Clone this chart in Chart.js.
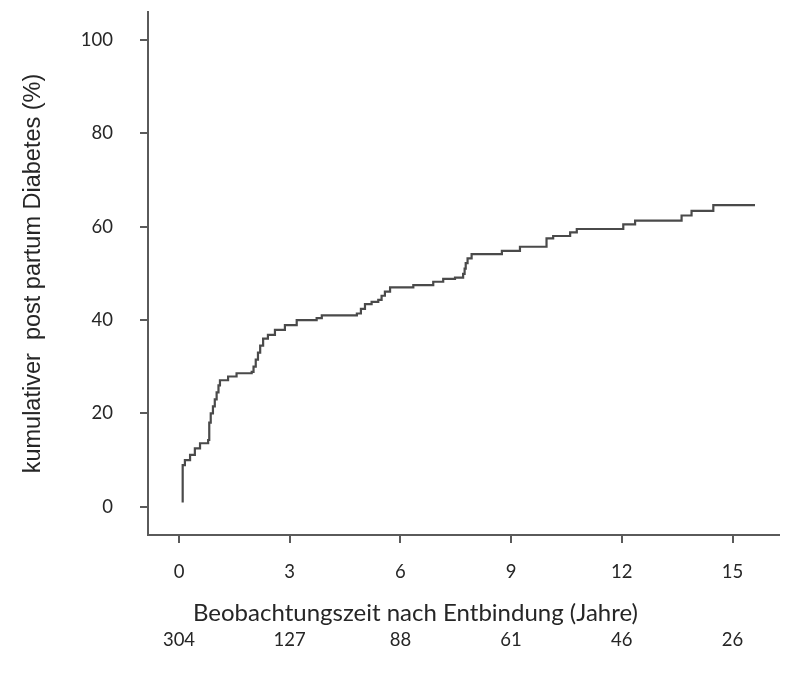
<!DOCTYPE html>
<html>
<head>
<meta charset="utf-8">
<script src="https://cdn.jsdelivr.net/npm/chart.js@4/dist/chart.umd.min.js"></script>
<style>
html,body{margin:0;padding:0;background:#fff;}
#wrap{width:790px;height:675px;position:relative;}
canvas{display:block;}
</style>
</head>
<body>
<div id="wrap"><canvas id="c" width="790" height="675"></canvas></div>
<script>
// Kaplan-Meier style cumulative incidence (years, percent)
const years = [0.10, 0.10, 0.16, 0.30, 0.43, 0.57, 0.79, 0.82, 0.86, 0.92, 0.97, 1.02, 1.07, 1.11, 1.33, 1.56, 1.97, 2.02, 2.08, 2.14, 2.20, 2.28, 2.41, 2.60, 2.87, 3.19, 3.73, 3.87, 4.82, 4.93, 5.04, 5.22, 5.40, 5.49, 5.58, 5.72, 6.35, 6.89, 7.16, 7.48, 7.70, 7.74, 7.77, 7.82, 7.93, 8.75, 9.24, 9.96, 10.14, 10.60, 10.78, 12.04, 12.36, 13.62, 13.89, 14.48, 15.61];
const cumPercent = [0.9, 8.9, 10.0, 11.1, 12.5, 13.6, 14.3, 18.0, 20.0, 21.5, 23.0, 24.5, 26.0, 27.1, 27.9, 28.6, 28.9, 30.0, 31.5, 33.0, 34.5, 36.0, 36.8, 37.9, 38.9, 40.0, 40.4, 41.0, 41.4, 42.4, 43.4, 43.9, 44.3, 45.2, 46.1, 47.0, 47.5, 48.2, 48.8, 49.1, 49.9, 51.0, 52.2, 53.2, 54.1, 54.8, 55.7, 57.5, 58.0, 58.8, 59.5, 60.5, 61.3, 62.4, 63.4, 64.6, 64.6];
const xTickValues = [0, 3, 6, 9, 12, 15];
const atRiskLabels = ['304', '127', '88', '61', '46', '26'];
const yTickValues = [0, 20, 40, 60, 80, 100];
const xTitleText = 'Beobachtungszeit nach Entbindung (Jahre)';
const yTitleText = 'kumulativer  post partum Diabetes (%)';

const points = years.map((x, i) => ({x: x, y: cumPercent[i]}));
const axisColor = '#5a5a5a';
const textColor = '#262626';
const tickFont = {family: 'Lato', size: 18.5};

const xTitlePlugin = {
  id: 'xTitlePlugin',
  afterDraw(chart) {
    const {ctx, chartArea} = chart;
    ctx.save();
    ctx.font = '24px Lato';
    ctx.fillStyle = textColor;
    ctx.textAlign = 'left';
    ctx.textBaseline = 'middle';
    ctx.fillText(xTitleText, chartArea.left + 45, 613);
    ctx.restore();
  }
};

new Chart(document.getElementById('c'), {
  type: 'line',
  data: {
    datasets: [{
      data: points,
      stepped: true,
      borderColor: '#4a4a4a',
      borderWidth: 2.2,
      pointRadius: 0,
      fill: false,
      tension: 0
    }]
  },
  plugins: [xTitlePlugin],
  options: {
    responsive: false,
    animation: false,
    devicePixelRatio: 1,
    layout: {padding: {left: 0, top: 12, right: 11, bottom: 20}},
    plugins: {legend: {display: false}, tooltip: {enabled: false}},
    scales: {
      x: {
        type: 'linear',
        position: 'bottom',
        weight: 0,
        min: -0.84,
        max: 16.26,
        afterBuildTicks: (s) => { s.ticks = xTickValues.map(v => ({value: v})); },
        afterFit: (s) => { s.height = 80; s.paddingLeft = 0; s.paddingRight = 0; },
        grid: {display: true, drawOnChartArea: false, drawTicks: true, tickLength: 8, color: axisColor, lineWidth: 2},
        border: {display: true, color: axisColor, width: 2},
        ticks: {color: textColor, font: tickFont, padding: 18, maxRotation: 0, autoSkip: false,
          callback: (v) => String(v)}
      },
      x2: {
        type: 'linear',
        position: 'bottom',
        weight: 1,
        min: -0.84,
        max: 16.26,
        afterBuildTicks: (s) => { s.ticks = xTickValues.map(v => ({value: v})); },
        afterFit: (s) => { s.height = 40; s.paddingLeft = 0; s.paddingRight = 0; },
        grid: {display: false, drawTicks: false},
        border: {display: false},
        ticks: {color: textColor, font: tickFont, padding: 14, maxRotation: 0, autoSkip: false,
          callback: (v) => { const i = xTickValues.indexOf(v); return i >= 0 ? atRiskLabels[i] : ''; }}
      },
      y: {
        type: 'linear',
        position: 'left',
        min: -6.06,
        max: 106.0,
        afterBuildTicks: (s) => { s.ticks = yTickValues.map(v => ({value: v})); },
        afterFit: (s) => { s.width = 148; s.paddingTop = 0; s.paddingBottom = 0; },
        grid: {display: true, drawOnChartArea: false, drawTicks: true, tickLength: 8, color: axisColor, lineWidth: 2},
        border: {display: true, color: axisColor, width: 2},
        ticks: {color: textColor, font: tickFont, padding: 27, callback: (v) => String(v)},
        title: {display: true, text: yTitleText, color: textColor,
          font: {family: 'Liberation Sans', size: 23.5}, padding: {top: 19, bottom: 0}}
      }
    }
  }
});
</script>
</body>
</html>
